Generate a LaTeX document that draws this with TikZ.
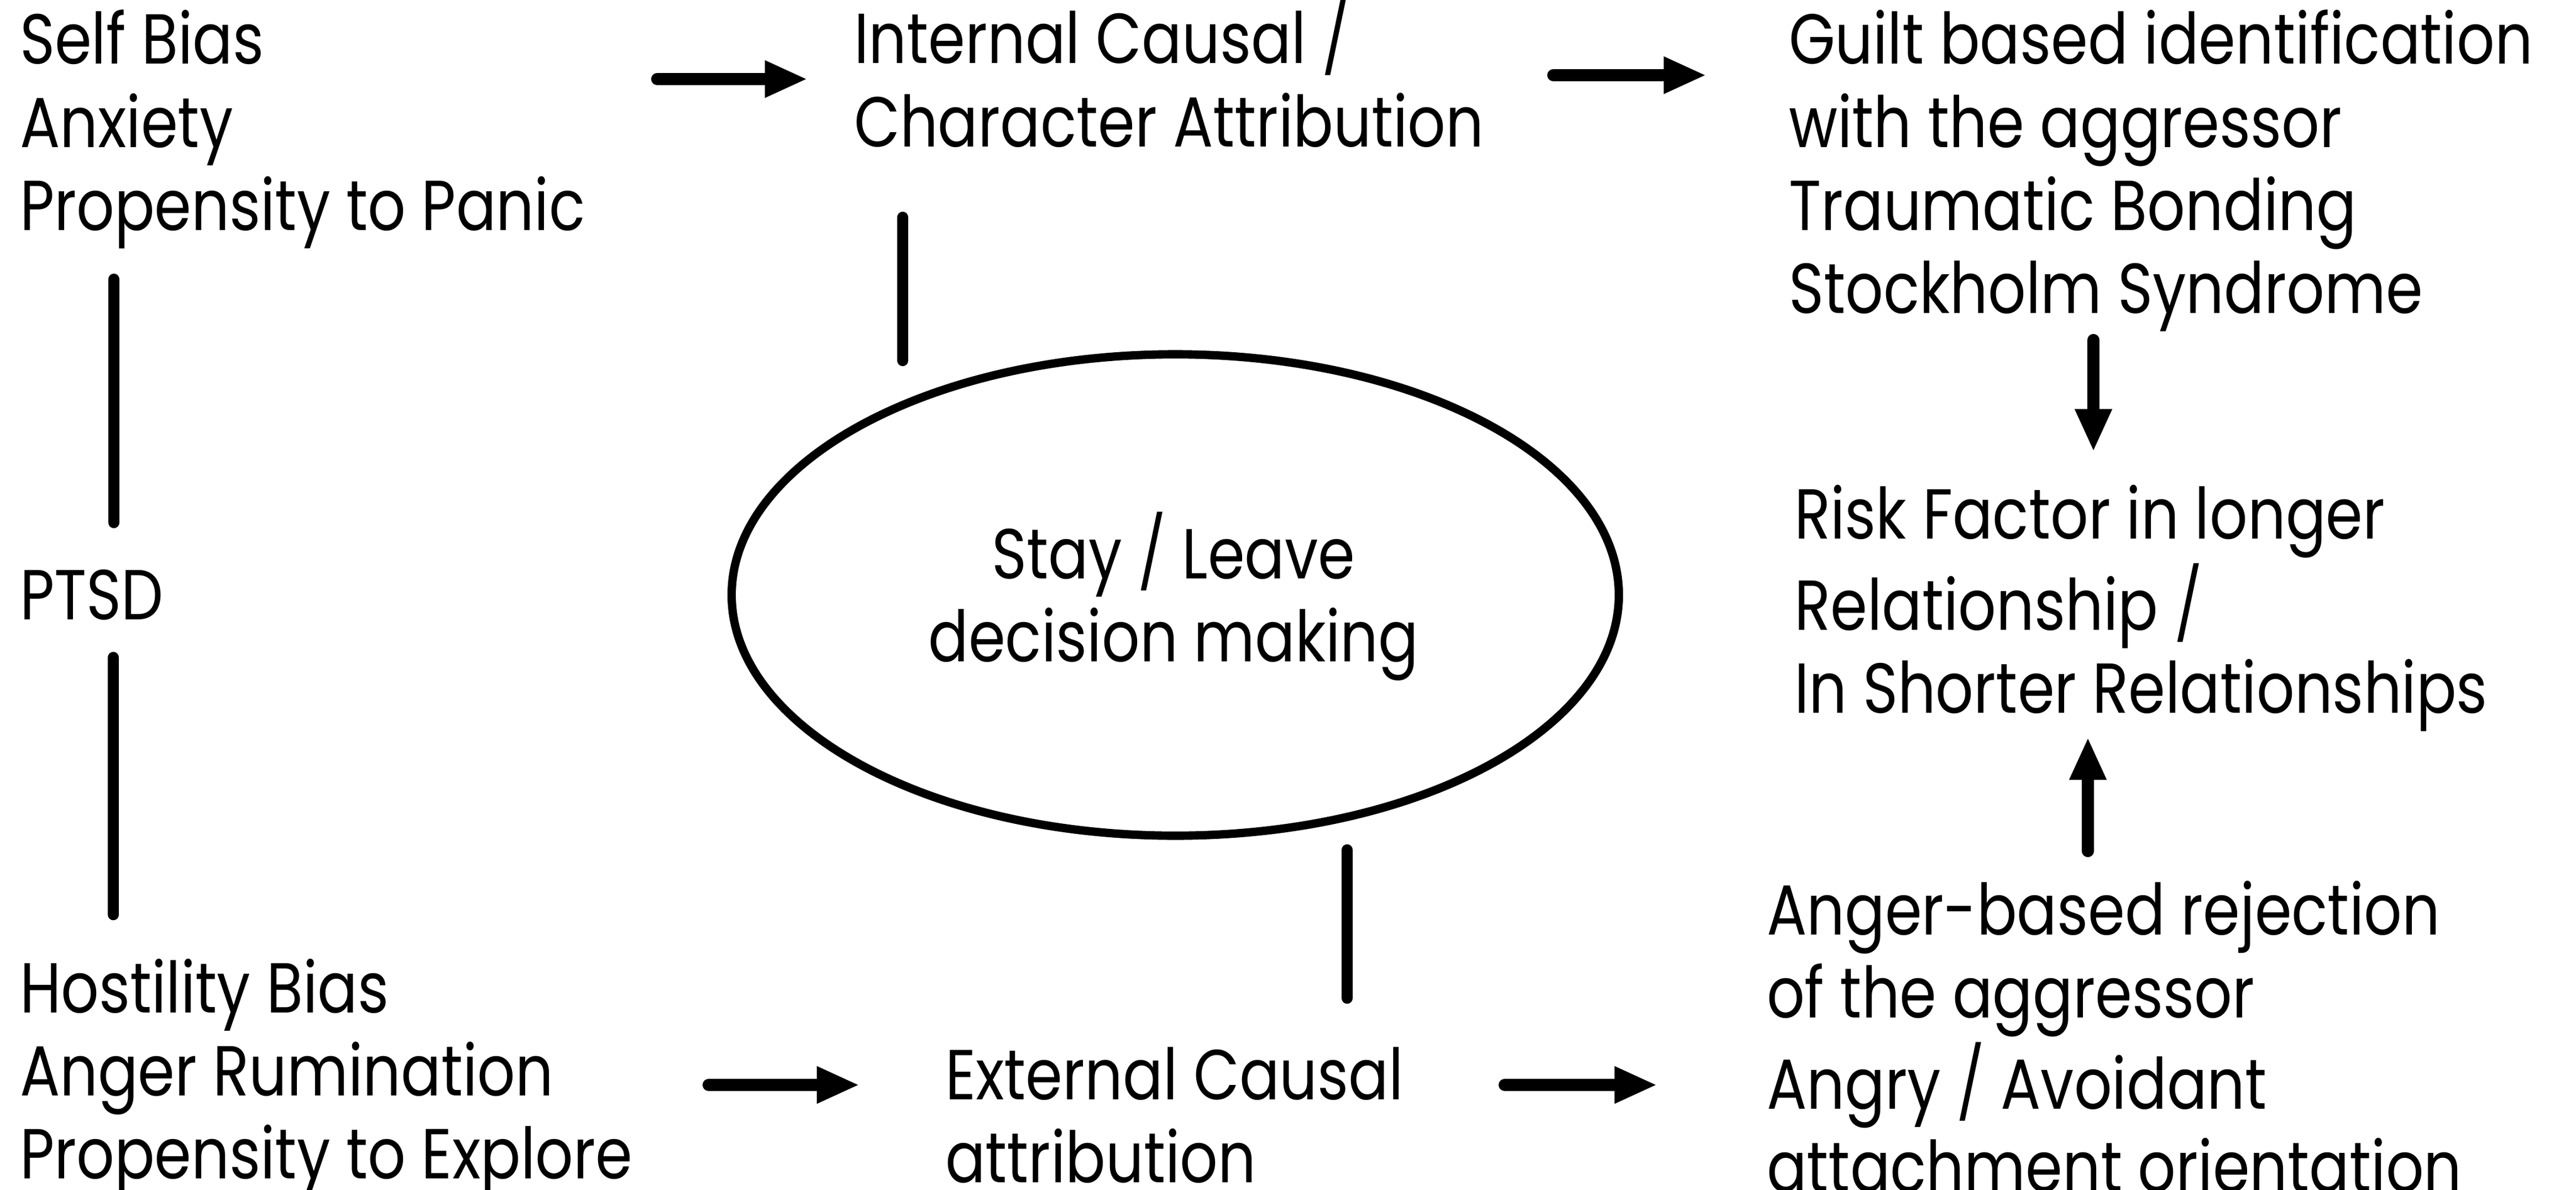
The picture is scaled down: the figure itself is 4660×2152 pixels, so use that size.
\documentclass[tikz,border=0pt]{standalone}
\usepackage{fontspec}
\setmainfont{Poppins}[FakeStretch=0.84]
\usetikzlibrary{arrows.meta,shapes.geometric}
\newcommand{\myleft}[1]{\begin{tabular}[t]{@{}l@{}}#1\end{tabular}}
\newcommand{\mycenter}[1]{\begin{tabular}[t]{@{}c@{}}#1\end{tabular}}
\tikzset{
  txt/.style={anchor=base west, inner sep=0pt, outer sep=0pt,
    font=\fontsize{36.4pt}{42.68pt}\selectfont},
  ctxt/.style={anchor=base, inner sep=0pt, outer sep=0pt,
    font=\fontsize{36.4pt}{42.68pt}\selectfont},
  conn/.style={line width=5.8pt, line cap=round},
  arr/.style={line width=6.3pt, line cap=round,
    -{Triangle[length=22pt,width=17.6pt]}},
  decision/.style={draw, ellipse, line width=4.3pt, inner sep=0pt,
    minimum width=16.04cm, minimum height=8.7cm},
}
\begin{document}
\begin{tikzpicture}[x=0.01cm,y=-0.01cm]
\useasboundingbox (0,0) rectangle (4660,2152);

% text nodes
\node[txt] (selfb) at (36,116) {\myleft{Self Bias\\Anxiety\\Propensity to Panic}};
\node[txt] (ptsd) at (36,1120) {PTSD};
\node[txt] (hostb) at (36,1831) {\myleft{Hostility Bias\\Anger Rumination\\Propensity to Explore}};
\node[txt] (intc) at (1545,115) {\myleft{Internal Causal /\\Character Attribution}};
\node[txt] (extc) at (1710,1988) {\myleft{External Causal\\attribution}};
\node[txt] (guilt) at (3236,116) {\myleft{Guilt based identification\\with the aggressor\\Traumatic Bonding\\Stockholm Syndrome}};
\node[txt] (risk) at (3246,974) {\myleft{Risk Factor in longer\\Relationship /\\In Shorter Relationships}};
\node[txt] (anger) at (3196,1690) {\myleft{Anger-based rejection\\of the aggressor\\Angry / Avoidant\\attachment orientation}};

% central ellipse
\node[decision] (dec) at (2126,1076) {};
\node[ctxt] (dectext) at (2123,1046) {\mycenter{Stay / Leave\\decision making}};

% connector end points
\coordinate (a1s) at (1189,143);  \coordinate (a1e) at (1461,143);
\coordinate (a2s) at (2810,136);  \coordinate (a2e) at (3087,136);
\coordinate (a3s) at (3787,615);  \coordinate (a3e) at (3787,817);
\coordinate (a4s) at (3777,1539); \coordinate (a4e) at (3777,1333);
\coordinate (a5s) at (1282,1962); \coordinate (a5e) at (1555,1962);
\coordinate (a6s) at (2722,1962); \coordinate (a6e) at (2998,1962);
\coordinate (l1s) at (206,505);   \coordinate (l1e) at (206,945);
\coordinate (l2s) at (205,1189);  \coordinate (l2e) at (205,1654);
\coordinate (l3s) at (1633,393);  \coordinate (l3e) at (1633,652);
\coordinate (l4s) at (2437,1537); \coordinate (l4e) at (2437,1805);

% arrows
\draw[arr] (a1s) -- (a1e);
\draw[arr] (a2s) -- (a2e);
\draw[arr] (a3s) -- (a3e);
\draw[arr] (a4s) -- (a4e);
\draw[arr] (a5s) -- (a5e);
\draw[arr] (a6s) -- (a6e);

% plain links
\draw[conn] (l1s) -- (l1e);
\draw[conn] (l2s) -- (l2e);
\draw[conn] (l3s) -- (l3e);
\draw[conn] (l4s) -- (l4e);
\end{tikzpicture}
\end{document}
